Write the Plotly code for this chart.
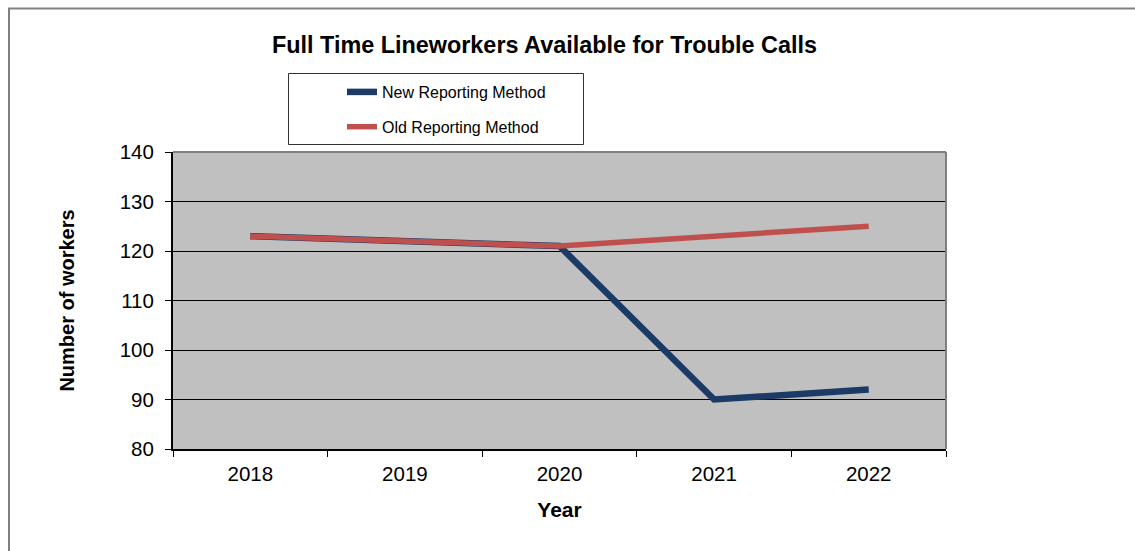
import plotly.graph_objects as go

years = ["2018", "2019", "2020", "2021", "2022"]
new_method = [123, 122, 121, 90, 92]
old_method = [123, 122, 121, 123, 125]

W, H = 1135, 551
L, R, T, B = 173, 946, 152, 449

def px_x(x):
    return (x - L) / (R - L)

def px_y(y):
    return (B - y) / (B - T)

fig = go.Figure()
fig.add_trace(go.Scatter(
    x=years, y=new_method, mode="lines", name="New Reporting Method",
    line=dict(color="#1B3A66", width=6.5), legendgroup="a",
))
fig.add_trace(go.Scatter(
    x=years, y=old_method, mode="lines", name="Old Reporting Method",
    line=dict(color="#C0504D", width=5.5), legendgroup="b",
))

font = "Liberation Sans, Arial, sans-serif"

fig.update_layout(
    width=W, height=H,
    margin=dict(l=L, r=W - R, t=T, b=H - B),
    paper_bgcolor="white",
    plot_bgcolor="#C0C0C0",
    font=dict(family=font, color="black"),
    title=dict(
        text="<b>Full Time Lineworkers Available for Trouble Calls</b>",
        font=dict(size=23.4, family=font, color="black"),
        x=544.5 / W, xref="container", xanchor="center",
        y=1 - 45 / H, yref="container", yanchor="middle",
    ),
    showlegend=True,
    legend=dict(
        x=px_x(342), y=px_y(75), xanchor="left", yanchor="top",
        bgcolor="rgba(0,0,0,0)", borderwidth=0,
        font=dict(size=16, family=font, color="black"),
        tracegroupgap=11,
    ),
    xaxis=dict(
        type="category",
        range=[-0.5, 4.5],
        tickson="boundaries",
        ticks="outside", ticklen=6, tickwidth=1, tickcolor="black",
        showline=True, linecolor="black", linewidth=2,
        showgrid=False, zeroline=False,
        tickfont=dict(size=20.5, family=font, color="black"),
        ticklabelstandoff=5,
        title=dict(text="<b>Year</b>", font=dict(size=21, family=font, color="black"), standoff=19),
    ),
    yaxis=dict(
        range=[80, 140], dtick=10, tick0=80,
        ticks="outside", ticklen=6, tickwidth=1, tickcolor="black",
        showline=True, linecolor="black", linewidth=2,
        showgrid=True, gridcolor="black", gridwidth=1,
        zeroline=False,
        tickfont=dict(size=20.5, family=font, color="black"),
        ticklabelstandoff=7,
        title=dict(text="<b>Number of workers</b>", font=dict(size=20, family=font, color="black"), standoff=40),
    ),
    shapes=[
        # legend frame
        dict(type="rect", xref="paper", yref="paper",
             x0=px_x(288.5), x1=px_x(583.5), y0=px_y(144.5), y1=px_y(73.5),
             fillcolor="white", line=dict(color="#333333", width=1), layer="above"),
        # plot area top and right border (gray)
        dict(type="line", xref="paper", yref="paper", x0=0, x1=1, y0=1, y1=1,
             line=dict(color="#808080", width=2), layer="above"),
        dict(type="line", xref="paper", yref="paper", x0=1, x1=1, y0=0, y1=1,
             line=dict(color="#808080", width=2), layer="above"),
        # outer chart border (left and top visible)
        dict(type="line", xref="paper", yref="paper", x0=px_x(9), x1=px_x(9), y0=px_y(8), y1=px_y(H + 5),
             line=dict(color="#808080", width=2), layer="above"),
        dict(type="line", xref="paper", yref="paper", x0=px_x(8), x1=px_x(W + 5), y0=px_y(8.5), y1=px_y(8.5),
             line=dict(color="#808080", width=2), layer="above"),
    ],
)

fig.write_html("out.html")
